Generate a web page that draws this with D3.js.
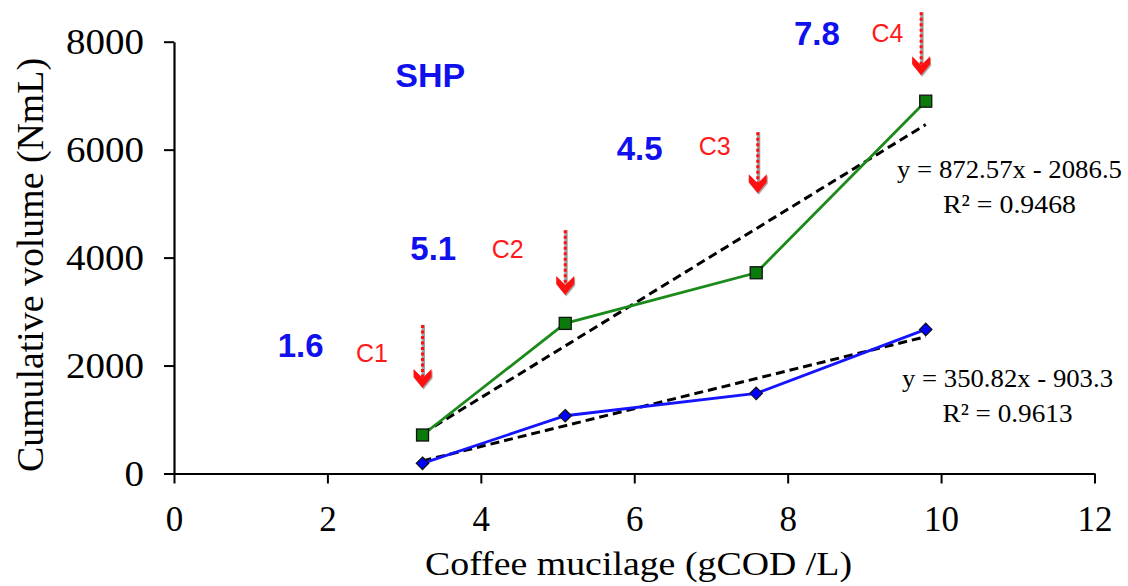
<!DOCTYPE html>
<html>
<head>
<meta charset="utf-8">
<script src="https://cdn.jsdelivr.net/npm/d3@7"></script>
<style>
  body { margin: 0; background: #fff; }
  .serif { font-family: 'Liberation Serif', 'Times New Roman', serif; fill: #000; }
  .sans { font-family: 'Liberation Sans', Arial, sans-serif; }
</style>
</head>
<body>
<div class="chart"></div>
<script>
// data
const codLoad = [3.24, 5.10, 7.59, 9.80];              // gCOD/L
const volumeGreen = [713, 2781, 3719, 6898];           // NmL
const volumeBlue = [189, 1070, 1485, 2670];            // NmL
const fitGreen = { slope: 872.57, intercept: -2086.5, r2: '0.9468' };
const fitBlue = { slope: 350.82, intercept: -903.3, r2: '0.9613' };
const xTicks = [0, 2, 4, 6, 8, 10, 12];
const yTicks = [0, 2000, 4000, 6000, 8000];

// annotations (data units)
const arrowLabels = ['C1', 'C2', 'C3', 'C4'];
const arrowX = [3.24, 5.10, 7.61, 9.74];
const arrowTop = [2750, 4509, 6324, 8546];
const arrowTip = [1583, 3306, 5194, 7380];
const arrowLabelPos = [[2.58, 2065], [4.35, 3991], [7.05, 5898], [9.30, 7991]];
const ratioLabels = ['1.6', '5.1', '4.5', '7.8'];
const ratioLabelPos = [[1.65, 2157], [3.38, 3954], [6.07, 5806], [8.38, 7935]];

const W = 1128, H = 586;

const x = d3.scaleLinear().domain([0, 12]).range([174, 1094.5]);
const y = d3.scaleLinear().domain([0, 8000]).range([473.5, 41.7]);

const svg = d3.select('.chart')
  .append('svg')
  .attr('width', W)
  .attr('height', H);

// axes
const xAxis = d3.axisBottom(x).tickValues(xTicks).tickFormat(d3.format('d'))
  .tickSizeInner(10).tickSizeOuter(0);
const yAxis = d3.axisLeft(y).tickValues(yTicks).tickFormat(d3.format('d'))
  .tickSizeInner(10).tickSizeOuter(0).tickPadding(20);

const gx = svg.append('g').attr('transform', `translate(0,${y(0)})`).call(xAxis);
const gy = svg.append('g').attr('transform', `translate(${x(0)},0)`).call(yAxis);

[gx, gy].forEach(g => {
  g.select('.domain').attr('stroke', '#000').attr('stroke-width', 2.2);
  g.selectAll('.tick line').attr('stroke', '#000').attr('stroke-width', 2);
  g.selectAll('.tick text')
    .attr('class', 'serif')
    .attr('font-size', 35)
    .attr('fill', '#000');
});
gx.selectAll('.tick text').attr('dy', 0).attr('y', 57);
gy.selectAll('.tick text')
  .attr('dy', '0.34em')
  .attr('textLength', d => String(d).length * 19.5)
  .attr('lengthAdjust', 'spacingAndGlyphs');

// axis titles
svg.append('text')
  .attr('class', 'serif')
  .attr('x', 638.5)
  .attr('y', 575)
  .attr('text-anchor', 'middle')
  .attr('font-size', 34)
  .attr('textLength', 427)
  .attr('lengthAdjust', 'spacingAndGlyphs')
  .text('Coffee mucilage (gCOD /L)');

svg.append('text')
  .attr('class', 'serif')
  .attr('transform', 'translate(43,265) rotate(-90)')
  .attr('text-anchor', 'middle')
  .attr('font-size', 38)
  .attr('textLength', 414)
  .attr('lengthAdjust', 'spacingAndGlyphs')
  .text('Cumulative volume (NmL)');

// trend lines
const xMin = d3.min(codLoad), xMax = d3.max(codLoad);
[fitGreen, fitBlue].forEach(f => {
  svg.append('line')
    .attr('x1', x(xMin)).attr('y1', y(f.slope * xMin + f.intercept))
    .attr('x2', x(xMax)).attr('y2', y(f.slope * xMax + f.intercept))
    .attr('stroke', '#000')
    .attr('stroke-width', 3)
    .attr('stroke-dasharray', '9,5');
});

// series lines
const line = d3.line().x(d => x(d[0])).y(d => y(d[1]));
const greenData = d3.zip(codLoad, volumeGreen);
const blueData = d3.zip(codLoad, volumeBlue);

svg.append('path').datum(greenData)
  .attr('d', line).attr('fill', 'none')
  .attr('stroke', '#1a8a1a').attr('stroke-width', 2.8);
svg.append('path').datum(blueData)
  .attr('d', line).attr('fill', 'none')
  .attr('stroke', '#1414ff').attr('stroke-width', 2.8);

// markers
svg.selectAll('.sq').data(greenData).enter()
  .append('rect')
  .attr('x', d => x(d[0]) - 6)
  .attr('y', d => y(d[1]) - 6)
  .attr('width', 12).attr('height', 12)
  .attr('fill', '#0a7a0a').attr('stroke', '#111').attr('stroke-width', 1.3);

svg.selectAll('.dm').data(blueData).enter()
  .append('path')
  .attr('d', d3.symbol(d3.symbolDiamond2, 100))
  .attr('transform', d => `translate(${x(d[0])},${y(d[1])})`)
  .attr('fill', '#0000ff').attr('stroke', '#111').attr('stroke-width', 1.2);

// equations
const eq = f => `y = ${f.slope}x - ${Math.abs(f.intercept)}`;
function equation(f, cx, yBase, w1, w2) {
  svg.append('text').attr('class', 'serif')
    .attr('x', cx).attr('y', yBase)
    .attr('text-anchor', 'middle')
    .attr('font-size', 26)
    .attr('textLength', w1).attr('lengthAdjust', 'spacingAndGlyphs')
    .text(eq(f));
  svg.append('text').attr('class', 'serif')
    .attr('x', cx).attr('y', yBase + 35)
    .attr('text-anchor', 'middle')
    .attr('font-size', 26)
    .attr('textLength', w2).attr('lengthAdjust', 'spacingAndGlyphs')
    .text(`R² = ${f.r2}`);
}
equation(fitGreen, 1009.5, 178, 225, 133);
equation(fitBlue, 1007.5, 387, 211, 130);

// arrows
arrowX.forEach((ax, i) => {
  const px = x(ax), top = y(arrowTop[i]), tip = y(arrowTip[i]);
  const g = svg.append('g');
  g.append('line')
    .attr('x1', px + 0.8).attr('x2', px + 0.8)
    .attr('y1', top).attr('y2', tip - 8)
    .attr('stroke', '#a0a0a0').attr('stroke-width', 3.4);
  g.append('line')
    .attr('x1', px).attr('x2', px)
    .attr('y1', top).attr('y2', tip - 8)
    .attr('stroke', '#ff1010').attr('stroke-width', 3)
    .attr('stroke-dasharray', '3,2.5');
  const head = `M${px - 9},${tip - 19} L${px},${tip - 10} L${px + 9},${tip - 19} L${px + 9},${tip - 11} L${px},${tip} L${px - 9},${tip - 11} Z`;
  g.append('path').attr('d', head).attr('fill', '#a8a8a8').attr('transform', 'translate(1,1.5)');
  g.append('path').attr('d', head).attr('fill', '#ff1010');

  svg.append('text').attr('class', 'sans')
    .attr('x', x(arrowLabelPos[i][0])).attr('y', y(arrowLabelPos[i][1]))
    .attr('text-anchor', 'middle')
    .attr('font-size', 25)
    .attr('fill', '#ff1a1a')
    .text(arrowLabels[i]);

  svg.append('text').attr('class', 'sans')
    .attr('x', x(ratioLabelPos[i][0])).attr('y', y(ratioLabelPos[i][1]))
    .attr('text-anchor', 'middle')
    .attr('font-size', 33)
    .attr('font-weight', 'bold')
    .attr('fill', '#1010ee')
    .text(ratioLabels[i]);
});

svg.append('text').attr('class', 'sans')
  .attr('x', x(3.34)).attr('y', y(7157))
  .attr('text-anchor', 'middle')
  .attr('font-size', 34)
  .attr('font-weight', 'bold')
  .attr('fill', '#1010ee')
  .text('SHP');
</script>
</body>
</html>
